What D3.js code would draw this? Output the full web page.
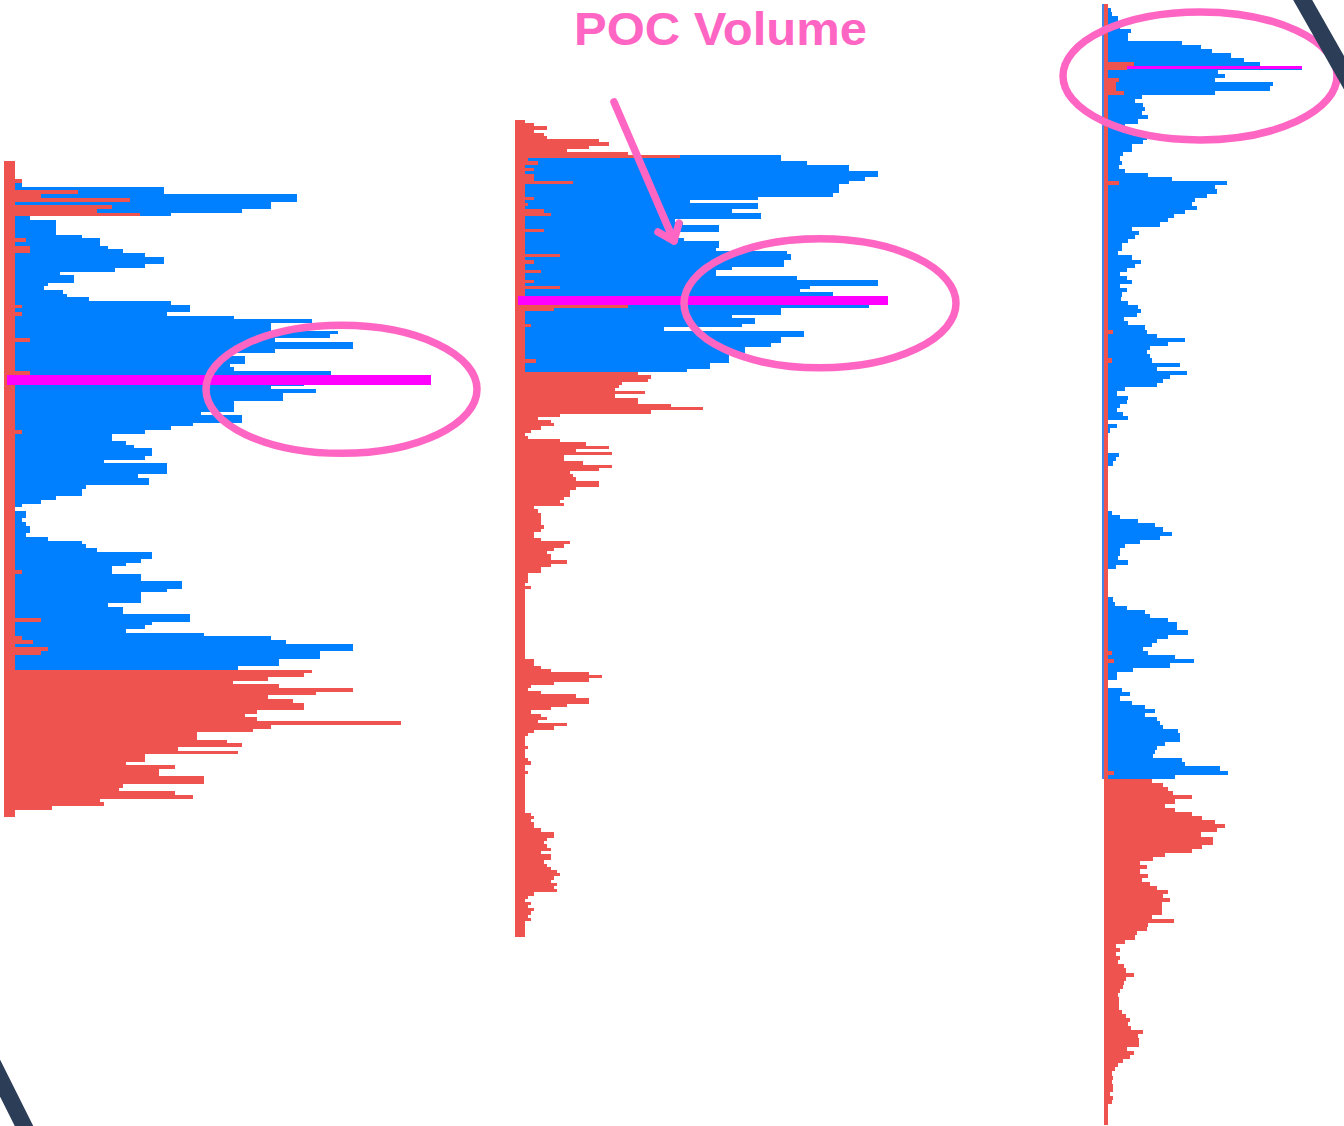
<!DOCTYPE html>
<html>
<head>
<meta charset="utf-8">
<script src="https://cdn.jsdelivr.net/npm/d3@7"></script>
<style>
html,body{margin:0;padding:0;background:#fff;}
svg{display:block;}
</style>
</head>
<body>
<svg id="chart" width="1344" height="1126"></svg>
<script>
// ---------- DATA (volume per price row, top row first) ----------
const titleText = "POC Volume";

const p1Blue = [
0,0,0,0,0,0,18,160,160,293,
293,267,267,238,167,26,52,52,52,52,
78,96,96,104,119,141,160,160,141,111,
56,70,70,44,40,59,63,85,167,186,
186,163,230,308,267,267,334,326,271,349,
349,271,226,241,241,226,230,327,300,427,
300,267,312,279,279,230,230,230,197,238,
238,189,167,141,108,108,122,130,148,148,
141,100,163,163,163,134,145,145,82,78,
78,52,37,18,0,22,22,18,22,26,
26,22,44,78,82,93,148,148,137,122,
108,108,137,137,178,178,163,137,137,137,
104,119,119,186,186,148,141,122,200,267,
282,349,349,316,316,275,275,234,0,0,
0,0,0,0,0,0,0,0,0,0,
0,0,0,0,0,0,0,0,0,0,
0,0,0,0,0,0,0,0,0,0,
0,0,0,0,0,0,0,0];
const p1Red = [
11,11,11,11,11,18,11,11,74,37,
126,11,108,93,136,11,11,11,11,11,
11,22,11,26,26,11,11,11,11,11,
11,11,11,11,11,11,11,11,11,18,
11,18,11,11,11,11,11,11,26,11,
11,11,11,11,11,11,11,26,11,11,
11,11,11,11,11,11,11,11,11,11,
11,11,11,18,11,11,11,11,11,11,
11,11,11,11,11,11,11,11,11,11,
11,11,11,11,11,11,11,11,11,11,
11,11,11,11,11,11,11,11,11,11,
11,18,11,11,11,11,11,11,11,11,
11,11,11,11,37,11,11,11,11,18,
29,11,44,37,11,11,11,11,308,300,
264,229,275,349,312,264,289,300,300,253,
241,253,397,267,249,193,193,223,238,174,
234,141,141,122,171,155,155,200,200,119,
115,171,189,96,100,48,11,11];

const p2Blue = [
0,0,0,0,0,0,0,0,0,0,
0,266,266,292,334,334,363,363,350,334,
324,324,324,318,243,175,243,243,217,246,
246,160,168,204,204,160,160,169,204,204,
201,272,276,276,269,269,217,201,201,282,
363,363,295,285,318,300,373,300,354,266,
266,217,240,240,227,149,289,289,266,266,
256,230,230,214,214,214,195,195,172,0,
0,0,0,0,0,0,0,0,0,0,
0,0,0,0,0,0,0,0,0,0,
0,0,0,0,0,0,0,0,0,0,
0,0,0,0,0,0,0,0,0,0,
0,0,0,0,0,0,0,0,0,0,
0,0,0,0,0,0,0,0,0,0,
0,0,0,0,0,0,0,0,0,0,
0,0,0,0,0,0,0,0,0,0,
0,0,0,0,0,0,0,0,0,0,
0,0,0,0,0,0,0,0,0,0,
0,0,0,0,0,0,0,0,0,0,
0,0,0,0,0,0,0,0,0,0,
0,0,0,0,0,0,0,0,0,0,
0,0,0,0,0,0,0,0,0,0,
0,0,0,0,0,0,0,0,0,0,
0,0,0,0,0,0,0,0,0,0,
0,0,0,0,0,0,0,0,0,0,
0,0,0,0,0,0];
const p2Red = [
10,19,32,19,29,32,84,94,74,52,
113,165,13,23,10,19,10,19,19,58,
10,10,10,10,19,10,13,10,29,36,
10,10,10,10,29,10,10,10,10,10,
10,10,45,10,19,10,10,26,10,10,
19,10,45,10,10,10,10,10,113,39,
10,10,10,10,16,10,10,10,10,10,
10,10,10,10,10,21,10,10,10,
123,136,133,107,104,100,130,100,123,123,
156,188,136,45,23,36,39,26,16,10,
13,45,71,94,61,97,49,49,68,97,
84,55,58,61,84,84,61,55,55,49,
45,49,19,23,26,26,26,26,29,26,
19,19,26,55,49,39,32,36,36,52,
36,26,26,13,13,13,10,16,10,10,
10,10,10,10,10,10,10,10,10,10,
10,10,10,10,10,10,10,10,10,10,
19,19,26,36,74,87,74,39,16,13,
26,61,74,74,52,36,16,26,32,23,
52,39,19,13,10,10,10,13,10,10,
10,13,16,10,10,13,10,10,10,10,
10,10,10,10,10,10,10,10,16,19,
16,19,19,26,39,39,32,29,32,36,
26,36,36,29,32,36,42,45,39,36,
42,39,42,19,13,10,16,13,19,16,
13,16,10,10,10,10,10];

const p3Blue = [
0,7,8,14,14,16,27,24,24,78,
97,108,127,140,156,198,114,121,111,169,
166,111,38,31,39,41,38,44,34,21,
18,34,43,39,28,28,19,16,18,15,
21,44,68,123,111,113,103,91,88,93,
81,70,64,56,28,35,31,24,18,18,
14,28,37,31,23,16,23,28,16,23,
18,17,24,34,37,33,20,24,41,43,
53,81,64,46,43,46,48,76,53,83,
66,59,53,21,13,24,23,16,13,19,
24,4,13,6,0,0,0,0,0,15,
12,9,0,0,0,0,0,0,0,0,
0,0,0,8,16,34,51,59,68,56,
36,21,16,16,14,24,12,4,0,0,
0,0,0,0,9,11,23,41,46,64,
73,73,84,64,53,48,39,44,71,90,
66,29,13,13,0,0,18,26,16,28,
41,51,41,53,56,59,74,76,76,61,
53,51,49,78,81,116,124,71,
0,0,0,0,0,0,0,0,0,0,
0,0,0,0,0,0,0,0,0,0,
0,0,0,0,0,0,0,0,0,0,
0,0,0,0,0,0,0,0,0,0,
0,0,0,0,0,0,0,0,0,0,
0,0,0,0,0,0,0,0,0,0,
0,0,0,0,0,0,0,0,0,0,
0,0,0,0,0,0,0,0,0,0,
0,0,0,0];
const p3Red = [
4,4,4,4,4,4,4,4,4,4,
4,4,4,4,30,23,4,4,15,12,
12,20,4,4,4,4,4,4,4,4,
4,4,4,4,4,4,4,4,4,4,
4,4,4,15,4,4,4,4,4,4,
4,4,4,4,4,4,4,4,4,4,
4,4,4,4,4,4,4,4,4,4,
4,4,4,4,4,4,4,4,4,9,
4,4,4,4,4,4,8,4,4,4,
4,4,4,4,4,4,4,4,4,4,
4,4,4,4,4,4,4,4,4,4,
4,4,4,4,4,4,4,4,4,4,
4,4,4,4,4,4,4,4,4,4,
4,4,4,4,4,4,4,4,4,4,
4,4,4,4,4,4,4,4,4,4,
4,4,4,4,4,4,4,8,4,10,
4,4,4,4,4,4,4,4,4,4,
4,4,4,4,4,4,4,4,4,4,
4,4,4,4,4,4,10,4,
48,59,64,69,88,71,61,71,88,98,
111,121,113,97,109,109,98,88,61,49,
36,43,36,44,38,46,53,64,59,66,
58,58,58,48,70,44,43,33,31,21,
12,16,12,16,14,20,22,30,22,20,
19,16,14,15,15,15,18,22,26,24,
27,39,34,35,35,23,30,26,19,14,
11,8,9,8,9,9,6,9,8,4,
4,4,4,4];

// ---------- STYLE ----------
const C = {blue:'#0080ff', red:'#ef5350', poc:'#ff00ff', pink:'#ff66c4', navy:'#2c3d58', edge:'#3f86e8'};

const profiles = [
  {blue:p1Blue, red:p1Red, x0:4,    top:161, bottom:817,  pocH:10, pocInset:3, pocOnTop:true,  ring:{dx:-89.5, dy:9, rx:135.5, ry:64}},
  {blue:p2Blue, red:p2Red, x0:515,  top:120, bottom:937,  pocH:9,  pocInset:3, pocOnTop:true,  ring:{dx:-68,   dy:3, rx:136,   ry:64.5}},
  {blue:p3Blue, red:p3Red, x0:1104, top:4,   bottom:1125, pocH:3,  pocInset:0, pocOnTop:false, edge:true, ring:{dx:-102, dy:8, rx:137, ry:64}}
];

const svg = d3.select('#chart');
svg.append('rect').attr('width',1344).attr('height',1126).attr('fill','#fff');

const rings = [];
profiles.forEach(p => {
  const n = p.blue.length;
  const y = d3.scaleBand().domain(d3.range(n)).range([p.top, p.bottom]).paddingInner(0).paddingOuter(0);
  const vmax = d3.max(p.blue.concat(p.red));
  const x = d3.scaleLinear().domain([0, vmax]).range([p.x0, p.x0 + vmax]);
  const bw = y.bandwidth();
  const rows = d3.range(n).map(i => ({i, b: p.blue[i] || 0, r: p.red[i] || 0}));
  const g = svg.append('g').attr('shape-rendering','crispEdges');

  if (p.edge) {
    const lastBlue = d3.max(rows.filter(d => d.b > 0), d => d.i);
    g.append('rect').attr('x', x(0) - 2).attr('y', y(0))
      .attr('width', 2).attr('height', y(lastBlue) + bw - y(0)).attr('fill', C.edge);
  }

  g.selectAll('rect.blue').data(rows.filter(d => d.b > 0)).join('rect')
    .attr('class','blue')
    .attr('x', x(0)).attr('y', d => y(d.i))
    .attr('width', d => x(d.b) - x(0)).attr('height', bw)
    .attr('fill', C.blue);

  const pocIdx = d3.maxIndex(p.blue);
  const pocY = y(pocIdx) + bw / 2;
  const drawPoc = () => g.append('rect').attr('x', x(0) + p.pocInset).attr('y', pocY - p.pocH / 2)
    .attr('width', x(p.blue[pocIdx]) - x(0) - p.pocInset).attr('height', p.pocH)
    .attr('fill', C.poc);

  if (!p.pocOnTop) drawPoc();

  g.selectAll('rect.red').data(rows.filter(d => d.r > 0)).join('rect')
    .attr('class','red')
    .attr('x', x(0)).attr('y', d => y(d.i))
    .attr('width', d => x(d.r) - x(0)).attr('height', bw)
    .attr('fill', C.red);

  if (p.pocOnTop) drawPoc();

  rings.push({cx: x(p.blue[pocIdx]) + p.ring.dx, cy: pocY + p.ring.dy, rx: p.ring.rx, ry: p.ring.ry});
});

// ---------- ANNOTATIONS ----------
svg.append('g').selectAll('ellipse').data(rings).join('ellipse')
  .attr('cx', d => d.cx).attr('cy', d => d.cy).attr('rx', d => d.rx).attr('ry', d => d.ry)
  .attr('fill','none').attr('stroke', C.pink).attr('stroke-width', 7.5);

const arrow = svg.append('g').attr('stroke', C.pink).attr('stroke-width', 7.5)
  .attr('fill','none').attr('stroke-linecap','round').attr('stroke-linejoin','round');
arrow.append('line').attr('x1', 614).attr('y1', 102).attr('x2', 674).attr('y2', 241);
arrow.append('polyline').attr('points', '658,232 674,241 679,223');

svg.append('text').attr('x', 574).attr('y', 45)
  .attr('font-family', '"Liberation Sans", Arial, sans-serif')
  .attr('font-weight', 700).attr('font-size', 46)
  .attr('textLength', 293).attr('lengthAdjust', 'spacingAndGlyphs')
  .attr('fill', C.pink).text(titleText);

// corner decorations
const deco = svg.append('g').attr('stroke', C.navy).attr('stroke-width', 16.5);
deco.append('line').attr('x1', 1297).attr('y1', -10).attr('x2', 1372).attr('y2', 122);
deco.append('line').attr('x1', -14).attr('y1', 1050).attr('x2', 40).attr('y2', 1158);
</script>
</body>
</html>
